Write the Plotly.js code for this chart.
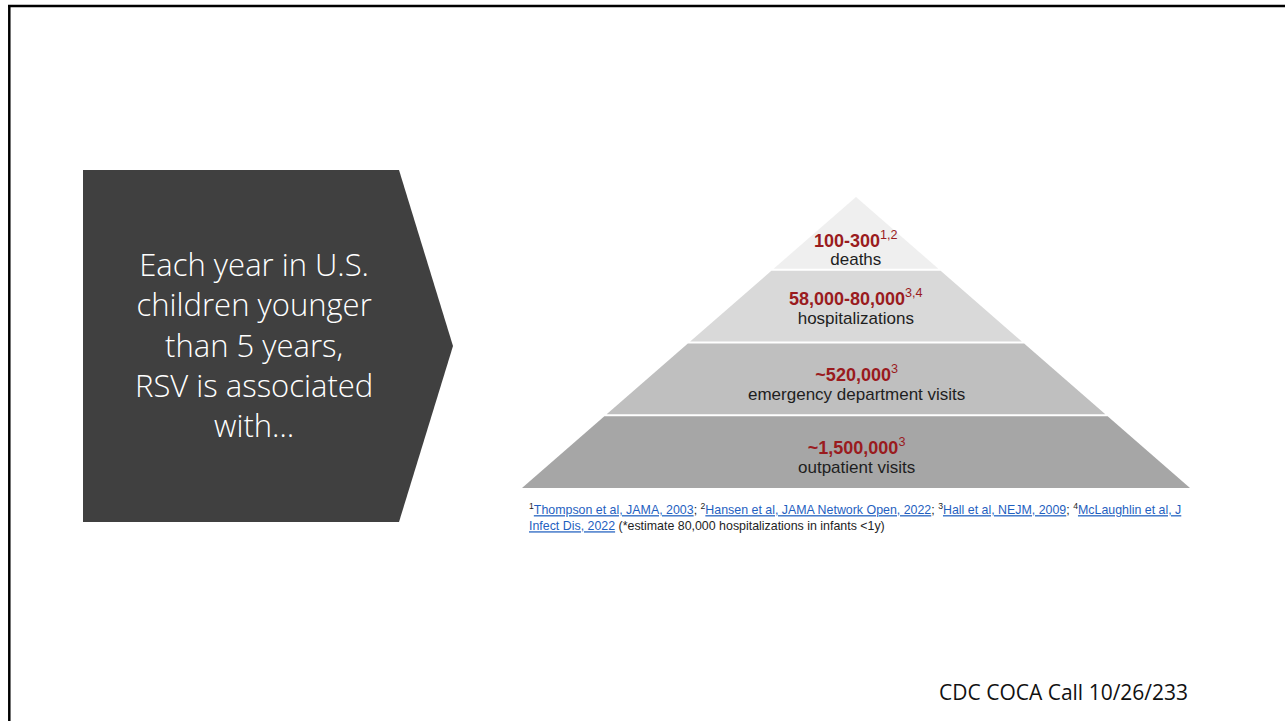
<!DOCTYPE html>
<html>
<head>
<meta charset="utf-8">
<script src="https://cdn.plot.ly/plotly-3.0.1.min.js"></script>
<style>html,body{margin:0;padding:0;background:#fff;}#chart{width:1285px;height:721px;}</style>
</head>
<body>
<div id="chart"></div>
<script>
// ---- data ----
const layerValues = ["100-300", "58,000-80,000", "~520,000", "~1,500,000"];
const layerRefs = ["1,2", "3,4", "3", "3"];
const layerLabels = ["deaths", "hospitalizations", "emergency department visits", "outpatient visits"];
const layerColors = ["#efefef", "#d9d9d9", "#bfbfbf", "#a6a6a6"];
const sideText = ["Each year in U.S.", "children younger", "than 5 years,", "RSV is associated", "with…"];
const refLinks = ["Thompson et al, JAMA, 2003", "Hansen et al, JAMA Network Open, 2022", "Hall et al, NEJM, 2009", "McLaughlin et al, J", "Infect Dis, 2022"];
const refNote = "(*estimate 80,000 hospitalizations in infants <1y)";
const footerText = "CDC COCA Call 10/26/233";

// ---- geometry (layout constants) ----
const apexX = 856, apexY = 197, baseY = 488, baseHalf = 334;
const nL = layerValues.length;
const layerH = (baseY - apexY) / nL;
const gap = 1;
const textMid = [21, 36, 32, 32];   // distance of text block centre above layer bottom

function halfAt(y) { return baseHalf * (y - apexY) / (baseY - apexY); }

const traces = [];
const annotations = [];
for (let i = 0; i < nL; i++) {
  const yt = apexY + i * layerH + (i === 0 ? 0 : gap);
  const yb = apexY + (i + 1) * layerH - (i === nL - 1 ? 0 : gap);
  const ht = halfAt(yt), hb = halfAt(yb);
  traces.push({
    type: "scatter", mode: "lines", fill: "toself",
    x: [apexX - ht, apexX + ht, apexX + hb, apexX - hb, apexX - ht],
    y: [yt, yt, yb, yb, yt],
    line: {width: 0, color: layerColors[i]}, fillcolor: layerColors[i],
    hoverinfo: "skip", showlegend: false
  });
  const bottom = apexY + (i + 1) * layerH;
  const lh = i === 0 ? 14 : 15;
  annotations.push({
    x: apexX, y: bottom - textMid[i], xref: "x", yref: "y",
    text: '<span style="font-size:18px;fill:#9a1b1e"><b>' + layerValues[i] + "</b><sup>" + layerRefs[i] + "</sup></span><br>" +
          '<span style="font-size:17px">' + layerLabels[i] + "</span>",
    showarrow: false, font: {family: "Liberation Sans, Arial", size: lh, color: "#1e1e1e"}
  });
}

const blue = "#1f5fbf";
function link(t) { return '<span style="fill:' + blue + ';text-decoration:underline">' + t + '</span>'; }
const line1 = "<sup>1</sup>" + link(refLinks[0]) + "; <sup>2</sup>" + link(refLinks[1]) +
  "; <sup>3</sup>" + link(refLinks[2]) + "; <sup>4</sup>" + link(refLinks[3]);
const line2 = link(refLinks[4]) + " " + refNote;
annotations.push({x: 527, y: 516.5, xref: "x", yref: "y", xanchor: "left", text: line1 + "<br>" + line2, showarrow: false,
  font: {family: "Liberation Sans, Arial", size: 12.4, color: "#1e1e1e"}, align: "left"});

annotations.push({x: 254, y: 344.5, xref: "x", yref: "y",
  text: sideText.join("<br>"), showarrow: false,
  font: {family: "Open Sans", size: 31, color: "#ffffff", weight: 300}});

annotations.push({x: 1190, y: 692, xref: "x", yref: "y", xanchor: "right", text: footerText, showarrow: false,
  font: {family: "Open Sans", size: 21, color: "#111111"}});

const shapes = [
  {type: "path", xref: "x", yref: "y", path: "M 83 170 L 399 170 L 453 346 L 399 522 L 83 522 Z",
   fillcolor: "#404040", line: {width: 0}, layer: "below"},
  {type: "line", xref: "x", yref: "y", x0: 8, x1: 1285, y0: 6, y1: 6, line: {color: "#000", width: 2.5}},
  {type: "line", xref: "x", yref: "y", x0: 9.3, x1: 9.3, y0: 5, y1: 721, line: {color: "#000", width: 2.5}}
];

const layout = {
  width: 1285, height: 721,
  margin: {l: 0, r: 0, t: 0, b: 0},
  paper_bgcolor: "#ffffff", plot_bgcolor: "#ffffff",
  xaxis: {range: [0, 1285], visible: false, fixedrange: true},
  yaxis: {range: [721, 0], visible: false, fixedrange: true},
  shapes: shapes, annotations: annotations, showlegend: false
};
Plotly.newPlot("chart", traces, layout, {displayModeBar: false, staticPlot: true});
</script>
</body>
</html>
